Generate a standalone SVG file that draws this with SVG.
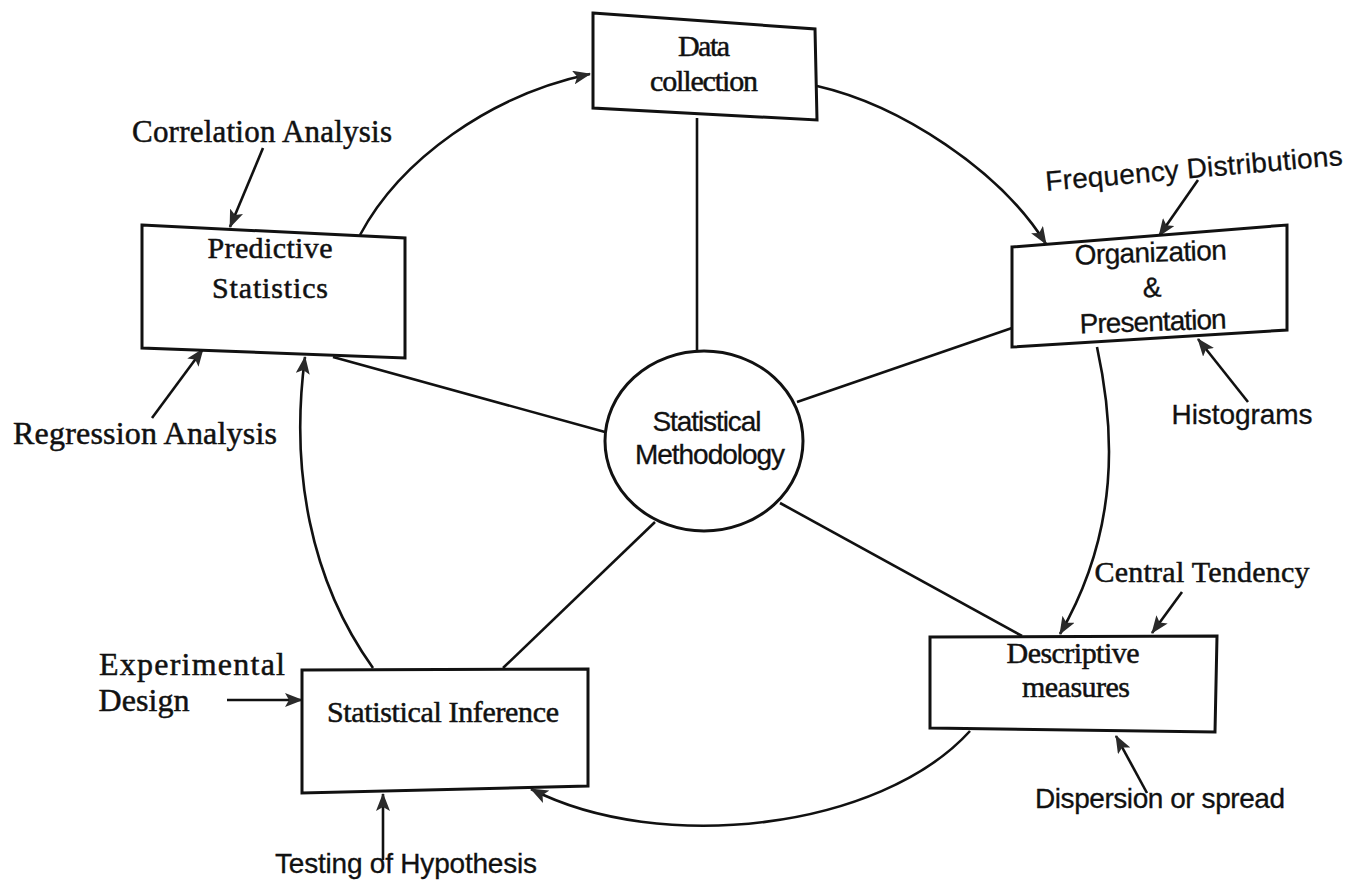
<svg xmlns="http://www.w3.org/2000/svg" width="1357" height="890" viewBox="0 0 1357 890">
  <defs>
    <marker id="ah" markerUnits="userSpaceOnUse" markerWidth="18" markerHeight="14" viewBox="0 0 18 14" refX="17" refY="7" orient="auto">
      <path d="M0,0 L18,7 L0,14 L4,7 z" fill="#2a2a2a"/>
    </marker>
  </defs>
  <style>
    .box { fill: #ffffff; stroke: #111; stroke-width: 3; stroke-linejoin: miter; }
    .circ { fill: #ffffff; stroke: #111; stroke-width: 3; }
    .ln { fill: none; stroke: #111; stroke-width: 2.6; }
    .arr { fill: none; stroke: #111; stroke-width: 2.6; marker-end: url(#ah); }
    .serif { font-family: "Liberation Serif", "Times New Roman", serif; font-size: 30px; fill: #111; stroke: #111; stroke-width: 0.5; text-anchor: middle; }
    .sans { font-family: "Liberation Sans", Arial, sans-serif; font-size: 28px; fill: #111; stroke: #111; stroke-width: 0.3; text-anchor: middle; }
  </style>
  <rect x="0" y="0" width="1357" height="890" fill="#ffffff"/>

  <g id="connectors">
    <!-- spokes from centre -->
    <line class="ln" x1="697" y1="118" x2="697" y2="352"/>
    <line class="ln" x1="333" y1="357" x2="605" y2="432"/>
    <line class="ln" x1="797" y1="402" x2="1012" y2="328"/>
    <line class="ln" x1="780" y1="503" x2="1022" y2="636"/>
    <line class="ln" x1="655" y1="522" x2="503" y2="668"/>
    <!-- cycle arrows -->
    <path class="arr" d="M360,235 C400,160 490,95 590,74"/>
    <path class="arr" d="M817,86 C900,105 1000,170 1046,244"/>
    <path class="arr" d="M1097,347 C1115,430 1120,530 1060,634"/>
    <path class="arr" d="M970,731 C880,830 660,855 531,789"/>
    <path class="arr" d="M373,668 C310,580 290,470 305,357"/>
    <!-- pointer arrows -->
    <line class="arr" x1="263" y1="148" x2="230" y2="227"/>
    <line class="arr" x1="152" y1="418" x2="203" y2="349"/>
    <line class="arr" x1="1198" y1="180" x2="1159" y2="236"/>
    <line class="arr" x1="1248" y1="402" x2="1198" y2="339"/>
    <line class="arr" x1="1182" y1="592" x2="1152" y2="633"/>
    <line class="arr" x1="1147" y1="793" x2="1116" y2="736"/>
    <line class="arr" x1="227" y1="700" x2="302" y2="700"/>
    <line class="arr" x1="383" y1="860" x2="383" y2="794"/>
  </g>

  <g id="data-collection">
    <polygon class="box" points="593,13 815,29 817,120 593,108"/>
    <text class="serif" x="704" y="56" textLength="52">Data</text>
    <text class="serif" x="704" y="91" textLength="108">collection</text>
  </g>

  <g id="predictive-statistics">
    <polygon class="box" points="142,225 405,238 405,358 142,348"/>
    <text class="serif" x="270" y="258" textLength="125">Predictive</text>
    <text class="serif" x="270" y="298" textLength="116">Statistics</text>
  </g>

  <g id="organization-presentation">
    <polygon class="box" points="1012,247 1287,225 1287,330 1012,347"/>
    <g transform="rotate(-2 1152 290)">
      <text class="sans" x="1152" y="262" textLength="152">Organization</text>
      <text class="sans" x="1152" y="297">&amp;</text>
      <text class="sans" x="1152" y="331" textLength="147">Presentation</text>
    </g>
  </g>

  <g id="descriptive-measures">
    <polygon class="box" points="930,637 1217,636 1215,732 930,728"/>
    <text class="serif" x="1073" y="663" textLength="133">Descriptive</text>
    <text class="serif" x="1076" y="697" textLength="108">measures</text>
  </g>

  <g id="statistical-inference">
    <polygon class="box" points="302,670 588,669 588,786 302,793"/>
    <text class="serif" x="443" y="722" textLength="232">Statistical Inference</text>
  </g>

  <g id="statistical-methodology">
    <ellipse class="circ" cx="704" cy="441" rx="99" ry="90"/>
    <text class="sans" x="707" y="431" textLength="109">Statistical</text>
    <text class="sans" x="710" y="464" textLength="150">Methodology</text>
  </g>

  <g id="correlation-analysis">
    <text class="serif" x="262" y="142" style="font-size:31px" textLength="260">Correlation Analysis</text>
  </g>
  <g id="regression-analysis">
    <text class="serif" x="145" y="444" style="font-size:32px" textLength="264">Regression Analysis</text>
  </g>
  <g id="frequency-distributions">
    <text class="sans" x="1194" y="178" textLength="298" transform="rotate(-5 1194 170)">Frequency Distributions</text>
  </g>
  <g id="histograms">
    <text class="sans" x="1242" y="424" textLength="141">Histograms</text>
  </g>
  <g id="central-tendency">
    <text class="serif" x="1202" y="582" textLength="215">Central Tendency</text>
  </g>
  <g id="dispersion-or-spread">
    <text class="sans" x="1160" y="808" textLength="250">Dispersion or spread</text>
  </g>
  <g id="experimental-design">
    <text class="serif" x="192" y="675" style="font-size:32px" textLength="186">Experimental</text>
    <text class="serif" x="144" y="711" style="font-size:32px" textLength="91">Design</text>
  </g>
  <g id="testing-of-hypothesis">
    <text class="sans" x="406" y="873" textLength="262">Testing of Hypothesis</text>
  </g>
</svg>
